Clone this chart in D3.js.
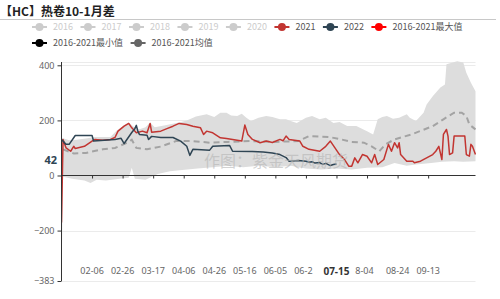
<!DOCTYPE html>
<html>
<head>
<meta charset="utf-8">
<title>热卷10-1月差</title>
<script src="https://cdn.jsdelivr.net/npm/d3@7"></script>
<style>
  body { margin: 0; background: #fff; }
  svg { display: block; font-family: "Noto Sans CJK SC", "Noto Sans", sans-serif; }
  .grid line { stroke: #ebebeb; }
</style>
</head>
<body>
<script>

var width = 500, height = 299;

// categories (MM-DD, plotted on a 2020 calendar so that 02-29 exists)
var firstDay = "01-17", lastDay = "10-14";
var tickDays = ["02-06","02-26","03-17","04-06","04-26","05-16","06-05","06-25","07-15","08-04","08-24","09-13"];
var tickLabels = ["02-06","02-26","03-17","04-06","04-26","05-16","06-05","06-2","07-15","8-04","08-24","09-13"];
var currentDay = "07-15";
var yTicks = [400, 200, 0, -200, -383];
var yMin = -383, yMax = 412;

var legendRow1 = ["2016","2017","2018","2019","2020","2021","2022","2016-2021最大值"];
var legendRow2 = ["2016-2021最小值","2016-2021均值"];

// series values
var s2021 = [["01-17",-171],["01-18",131],["01-20",100],["01-23",88],["01-25",106],["01-26",98],["02-01",106],
  ["02-06",125],["02-08",131],["02-13",128],["02-18",131],["02-21",138],["02-23",161],["02-27",179],["03-01",189],
  ["03-03",173],["03-06",155],["03-10",161],["03-13",155],["03-15",189],["03-16",157],["03-22",161],["03-26",170],
  ["03-30",179],["04-03",189],["04-08",185],["04-12",179],["04-17",173],["04-19",149],["04-21",161],["04-25",155],
  ["04-30",137],["05-04",134],["05-08",131],["05-14",125],["05-16",183],["05-18",149],["05-21",131],["05-26",119],
  ["05-30",125],["06-03",120],["06-08",131],["06-10",126],["06-12",143],["06-14",131],["06-21",125],["06-23",106],
  ["06-27",95],["07-04",88],["07-08",106],["07-11",125],["07-14",100],["07-17",76],["07-20",60],["07-23",34],
  ["07-25",34],["07-27",64],["07-29",46],["08-01",76],["08-04",70],["08-07",46],["08-09",76],["08-11",40],
  ["08-15",58],["08-18",113],["08-20",88],["08-22",119],["08-24",100],["08-25",119],["08-26",76],["08-30",52],
  ["09-03",52],["09-04",46],["09-08",52],["09-12",64],["09-16",76],["09-18",88],["09-20",106],["09-22",58],
  ["09-23",149],["09-25",167],["09-26",143],["09-27",76],["09-29",82],["09-30",143],["10-07",143],["10-08",76],
  ["10-10",70],["10-11",113],["10-12",106],["10-14",76]];

var s2022 = [["01-17",131],["01-20",113],["01-22",113],["01-26",145],["02-06",145],["02-07",125],["02-14",128],
  ["02-21",131],["02-25",135],["02-27",116],["03-03",156],["03-05",170],["03-06",182],["03-07",160],["03-08",149],
  ["03-13",146],["03-14",131],["03-16",142],["03-22",138],["03-30",138],["04-04",125],["04-08",106],["04-10",73],
  ["04-12",95],["04-23",92],["04-25",106],["05-06",109],["05-08",88],["05-21",87],["05-28",85],["06-03",82],
  ["06-08",76],["06-12",65],["06-14",52],["06-20",54],["06-25",52],["06-27",48],["06-29",50],["07-01",45],
  ["07-04",47],["07-06",40],["07-08",44],["07-11",36],["07-13",40],["07-15",42]];

var sMax = [["01-17",135],["01-18",135],["01-22",128],["01-27",130],["02-03",135],["02-08",140],["02-18",140],
  ["02-22",162],["02-27",182],["03-01",192],["03-04",178],["03-08",168],["03-12",175],["03-15",192],["03-18",175],
  ["03-25",182],["04-03",192],["04-08",200],["04-14",214],["04-21",222],["04-26",212],["04-30",228],["05-04",228],
  ["05-07",218],["05-11",216],["05-14",224],["05-17",210],["05-20",198],["05-25",210],["05-30",216],["06-03",212],
  ["06-08",204],["06-12",204],["06-16",196],["06-19",191],["06-25",210],["06-29",216],["07-04",204],["07-08",210],
  ["07-13",191],["07-17",194],["07-22",180],["07-28",180],["08-04",161],["08-08",149],["08-11",204],["08-14",212],
  ["08-17",216],["08-21",206],["08-25",210],["08-30",222],["09-01",210],["09-05",198],["09-10",228],["09-12",258],
  ["09-16",288],["09-21",319],["09-24",330],["09-25",404],["10-02",415],["10-06",410],["10-08",373],["10-11",337],
  ["10-14",306]];

var sMin = [["01-17",-383],["01-18",-5],["01-24",-12],["02-01",-18],["02-05",-27],["02-09",-15],["02-15",-18],
  ["02-24",-12],["03-01",-8],["03-03",28],["03-05",-12],["03-12",-15],["03-20",5],["03-28",15],["04-05",20],
  ["04-15",25],["04-25",30],["05-05",35],["05-15",30],["05-25",35],["06-05",30],["06-15",35],["06-25",25],
  ["07-05",22],["07-15",25],["07-25",22],["08-04",28],["08-14",30],["08-22",45],["08-30",35],["09-05",40],
  ["09-15",45],["09-22",50],["09-30",52],["10-06",50],["10-14",52]];

var sMean = [["01-18",95],["01-25",80],["02-02",82],["02-13",95],["02-21",100],["02-29",119],["03-03",130],
  ["03-06",100],["03-13",95],["03-22",105],["04-01",125],["04-12",125],["04-23",119],["05-05",122],["05-20",125],
  ["06-05",122],["06-20",125],["06-27",143],["07-10",140],["07-18",131],["07-25",122],["08-02",119],["08-07",106],
  ["08-12",88],["08-16",113],["08-22",131],["09-02",149],["09-16",179],["09-23",204],["09-30",228],["10-05",228],
  ["10-08",216],["10-10",185],["10-14",167]];

var parse = d3.timeParse("%Y-%m-%d");
function day(md) { return parse("2020-" + md); }

var x = d3.scaleTime()
    .domain([day(firstDay), day(lastDay)])
    .range([61.5, 475.5]);

var y = d3.scaleLinear()
    .domain([yMin, yMax])
    .range([281, 62]);

var svg = d3.select("body").append("svg")
    .attr("width", width)
    .attr("height", height);

// title
svg.append("text")
    .attr("x", 0).attr("y", 16)
    .attr("font-size", 12).attr("font-weight", "bold")
    .attr("fill", "#222")
    .text("【HC】热卷10-1月差");

svg.append("line")
    .attr("x1", 0).attr("x2", 496)
    .attr("y1", 19.5).attr("y2", 19.5)
    .attr("stroke", "#c8c8c8");

// legend
var legendColors = {
    "2021": "#c23531", "2022": "#2f4554", "2016-2021最大值": "#ff0000",
    "2016-2021最小值": "#000000", "2016-2021均值": "#666666"
};

function drawLegend(names, ly) {
    var cx = 32;
    names.forEach(function (name) {
        var c = legendColors[name] || "#cccccc";
        var g = svg.append("g");
        g.append("line")
            .attr("x1", cx).attr("x2", cx + 15)
            .attr("y1", ly).attr("y2", ly)
            .attr("stroke", c).attr("stroke-width", 2);
        g.append("circle")
            .attr("cx", cx + 7.5).attr("cy", ly).attr("r", 4)
            .attr("fill", c);
        var t = g.append("text")
            .attr("x", cx + 21).attr("y", ly + 3.3)
            .attr("font-size", 9)
            .attr("fill", legendColors[name] ? "#555" : "#cccccc")
            .text(name);
        cx += 21 + t.node().getComputedTextLength() + 7.5;
    });
}
drawLegend(legendRow1, 27);
drawLegend(legendRow2, 43);

// grid
svg.append("g").attr("class", "grid")
    .selectAll("line")
    .data(yTicks.filter(function (d) { return d !== 0; }).concat([yMax]))
    .join("line")
    .attr("x1", 62).attr("x2", 475.5)
    .attr("y1", function (d) { return Math.round(y(d)) + 0.5; })
    .attr("y2", function (d) { return Math.round(y(d)) + 0.5; });

var clip = svg.append("clipPath").attr("id", "plot")
    .append("rect")
    .attr("x", 61.5).attr("y", 60).attr("width", 414.5).attr("height", 222);

var plot = svg.append("g").attr("clip-path", "url(#plot)");

var line = d3.line()
    .x(function (d) { return x(day(d[0])); })
    .y(function (d) { return y(d[1]); });

// min-max band
plot.append("path")
    .attr("d", line(sMax.concat(sMin.slice().reverse())) + "Z")
    .attr("fill", "#dddddd")
    .attr("stroke", "none");

// watermark
svg.append("text")
    .attr("x", 204).attr("y", 167)
    .attr("font-size", 16)
    .attr("fill", "#b4b4b4").attr("fill-opacity", 0.6)
    .text("作图：紫金天风期货");

plot.append("path")
    .attr("d", line(sMean))
    .attr("fill", "none")
    .attr("stroke", "#a3a3a3")
    .attr("stroke-width", 2)
    .attr("stroke-dasharray", "6,4");

plot.append("path")
    .attr("d", line(s2021))
    .attr("fill", "none")
    .attr("stroke", "#c23531")
    .attr("stroke-width", 1.5)
    .attr("stroke-linejoin", "round");

plot.append("path")
    .attr("d", line(s2022))
    .attr("fill", "none")
    .attr("stroke", "#2f4554")
    .attr("stroke-width", 1.5)
    .attr("stroke-linejoin", "round");

// y axis
var yAxis = svg.append("g")
    .attr("transform", "translate(61.5,0)")
    .call(d3.axisLeft(y).tickValues(yTicks).tickSize(4).tickPadding(3).tickFormat(d3.format("d")));
yAxis.select(".domain").attr("stroke", "#333").attr("d", "M0," + y(yMax) + "V" + y(yMin));
yAxis.selectAll(".tick line").attr("stroke", "#333");
yAxis.selectAll(".tick text").attr("font-size", 9).attr("fill", "#666")
    .attr("font-family", "'Noto Sans', sans-serif");

// x axis on zero line, labels at bottom
var xAxis = svg.append("g")
    .attr("transform", "translate(0," + (Math.round(y(0)) + 0.5) + ")")
    .call(d3.axisBottom(x).tickValues(tickDays.map(day)).tickSize(3).tickFormat(""));
xAxis.select(".domain").attr("stroke", "#333").attr("d", "M61.5,0H475.5");
xAxis.selectAll(".tick line").attr("stroke", "#333");

var labels = svg.append("g")
    .attr("font-size", 9).attr("fill", "#666")
    .attr("font-family", "'Noto Sans', sans-serif");
tickDays.forEach(function (d, i) {
    if (d === currentDay) return;
    labels.append("text")
        .attr("x", x(day(d)) - 11.7).attr("y", 274)
        .text(tickLabels[i]);
});

// current day highlighted
var cur = x(day(currentDay));
svg.append("rect")
    .attr("x", cur - 22).attr("y", 262).attr("width", 40).attr("height", 16)
    .attr("fill", "#fff");
svg.append("text")
    .attr("x", cur).attr("y", 275)
    .attr("text-anchor", "middle")
    .attr("font-size", 10).attr("font-weight", "bold").attr("fill", "#333")
    .attr("font-family", "'Noto Sans', sans-serif")
    .text(tickLabels[tickDays.indexOf(currentDay)]);

// latest value of 2022 on the y axis
var last = s2022[s2022.length - 1];
svg.append("text")
    .attr("x", 57).attr("y", y(last[1]))
    .attr("text-anchor", "end")
    .attr("font-size", 11).attr("font-weight", "bold").attr("fill", "#2f4554")
    .attr("font-family", "'Noto Sans', sans-serif")
    .text(last[1]);

</script>
</body>
</html>
